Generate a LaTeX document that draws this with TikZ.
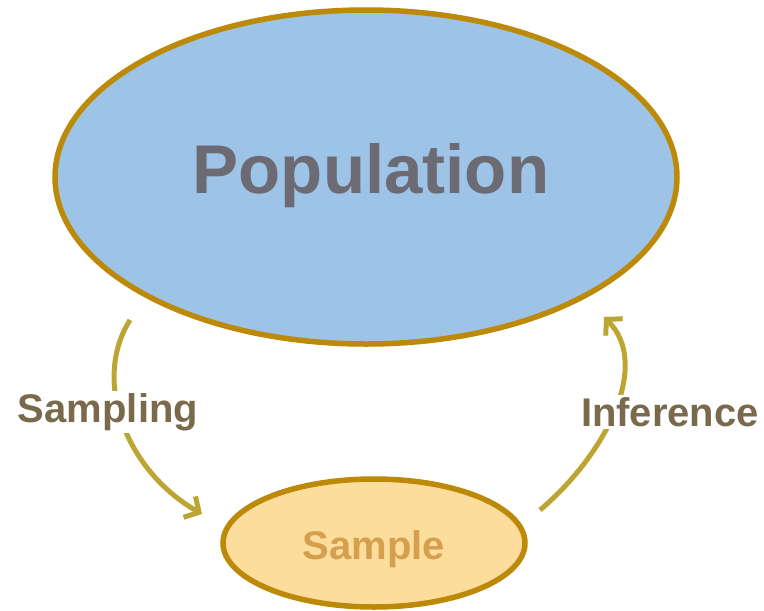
\documentclass[tikz,border=0pt]{standalone}
\usepackage{fontspec}
\setmainfont{Liberation Sans}
\usetikzlibrary{arrows.meta,shapes.geometric}
\definecolor{popfill}{HTML}{9DC3E6}
\definecolor{sampfill}{HTML}{FCDD9C}
\definecolor{rim}{HTML}{BC8A08}
\definecolor{poptext}{HTML}{6C6A72}
\definecolor{samptext}{HTML}{D69F4E}
\definecolor{labtext}{HTML}{7A6A4C}
\definecolor{arrowcol}{HTML}{BCA532}
\tikzset{
  blob/.style={ellipse, draw=rim, line width=5.5pt, inner sep=0pt},
  lab/.style={fill=white, inner sep=2pt, text=labtext, font=\fontsize{40}{44}\selectfont\bfseries},
  flow/.style={draw=arrowcol, line width=5pt, -{Straight Barb[length=11pt,width=24pt,line width=5pt]}}
}
\begin{document}
\begin{tikzpicture}[x=1pt,y=-1pt]
\useasboundingbox (0,0) rectangle (764,611);
\fill[white] (0,0) rectangle (764,611);
\node[blob, fill=popfill, minimum width=622pt, minimum height=334pt] (pop) at (366,177) {};
\node[text=poptext, font=\fontsize{69}{72}\selectfont\bfseries] (poplabel) at (371,176) {Population};
\node[blob, fill=sampfill, minimum width=302pt, minimum height=128pt] (samp) at (374,543) {};
\node[text=samptext, font=\fontsize{40}{44}\selectfont\bfseries] (samplabel) at (374,549) {Sample};
\coordinate (s0) at (130,320);
\coordinate (s1) at (202,514);
\coordinate (i0) at (540,510);
\coordinate (i1) at (604,317);
\draw[flow] (s0) .. controls (92,380) and (125,470) .. (s1);
\draw[flow] (i0) .. controls (605,455) and (652,365) .. (i1);
\node[lab] (sampling) at (108,412) {Sampling};
\node[lab] (inference) at (670,412) {Inference};
\end{tikzpicture}
\end{document}
